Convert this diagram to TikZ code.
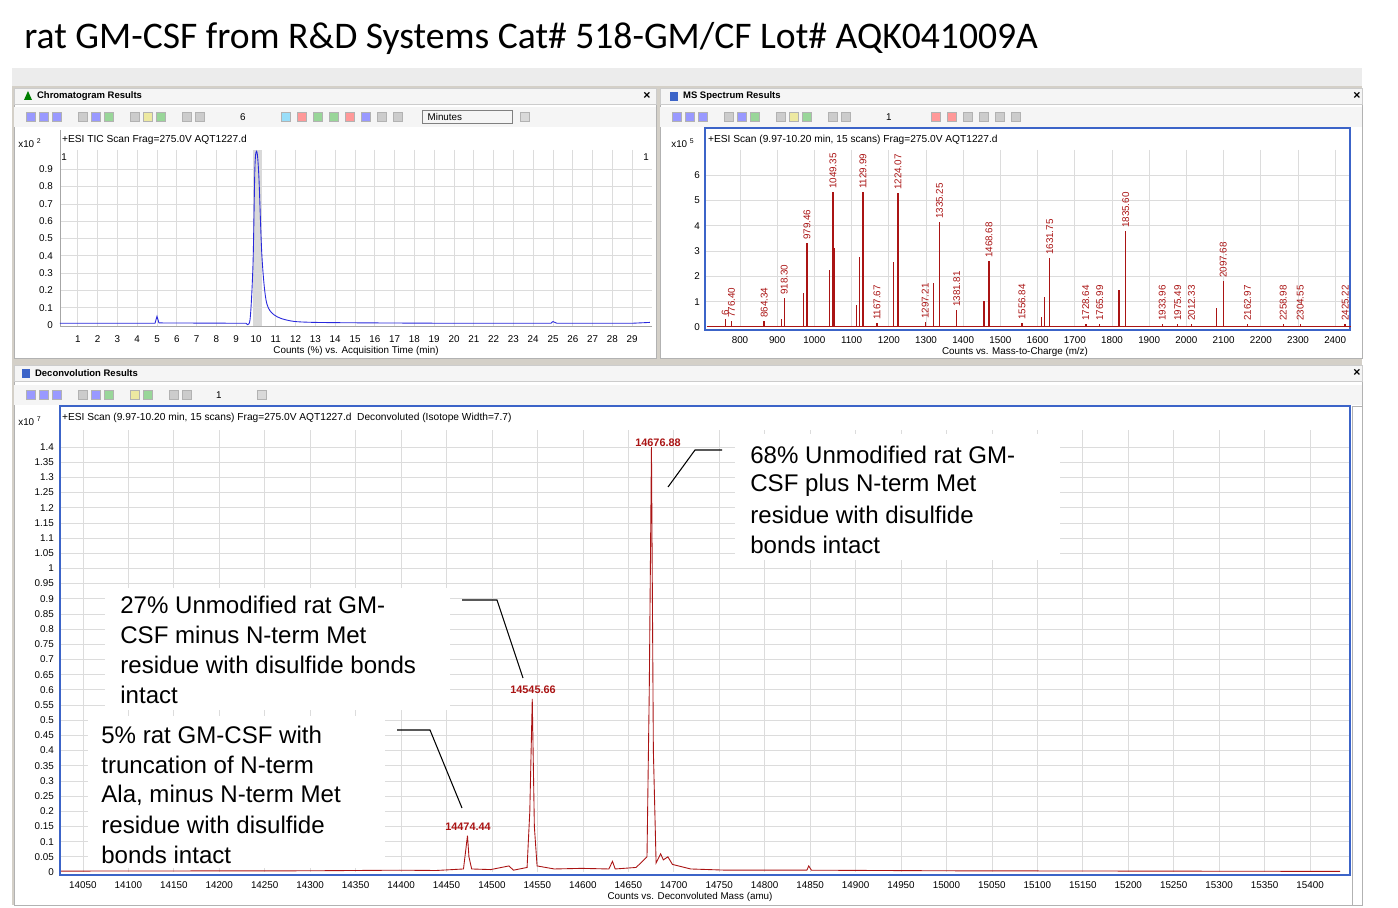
\documentclass[tikz,border=0pt]{standalone}
\usepackage{fontspec}
\setmainfont{Liberation Sans}
\newfontfamily\titlefont{Carlito}
\usepackage{tikz}
\usetikzlibrary{positioning,calc}
\definecolor{wingray}{RGB}{212,208,200}
\definecolor{barblue}{RGB}{60,100,200}
\definecolor{peakred}{RGB}{170,20,20}
\definecolor{ticblue}{RGB}{40,40,220}
\definecolor{gridgray}{RGB}{220,220,220}

\tikzset{
  ticklbl/.style={font=\fontsize{5.6}{6}\selectfont,inner sep=1pt},
  hdrlbl/.style={font=\fontsize{5.4}{6}\selectfont\bfseries,anchor=west,inner sep=1pt},
  scanlbl/.style={font=\fontsize{5.8}{6}\selectfont,anchor=west,inner sep=1pt},
  peaklbl/.style={font=\fontsize{5.6}{6}\selectfont,text=peakred,inner sep=1pt},
  annot/.style={fill=white,inner sep=0pt},
  annotxt/.style={font=\fontsize{13.7}{17}\selectfont,anchor=west,inner sep=0pt},
  leader/.style={draw=black,line width=0.6pt},
  panel/.style={fill=white,draw=gray!60},
  hdrbar/.style={fill=gray!8,draw=gray!40},
  icon/.style={minimum size=5pt,inner sep=0pt,draw=gray!60}
}

\begin{document}
\begin{tikzpicture}[x=0.02cm,y=-0.02cm]
\useasboundingbox (0,0) rectangle (1398,908);
\fill[white] (0,0) rectangle (1398,908);

% Title
\node[anchor=west,font=\titlefont\fontsize{21.4}{24}\selectfont,inner sep=0pt] (title) at (24,38)
  {rat GM-CSF from R\&D Systems Cat\# 518-GM/CF Lot\# AQK041009A};

% Window frame
\fill[wingray] (12,68) rectangle (1362,905);
\fill[gray!15] (12,68) rectangle (1362,86);

% ---------- Chromatogram panel ----------
\draw[panel] (14,88) rectangle (656,358);
\draw[hdrbar] (14,88) rectangle (656,104);
\fill[green!50!black] (24,100) -- (28,91) -- (32,100) -- cycle;
\node[hdrlbl] (chromhdr) at (35,96) {Chromatogram Results};
\node[font=\bfseries\fontsize{7}{7}\selectfont] (chromx) at (647,96) {×};
\fill[gray!8] (14,107) rectangle (656,127);
\foreach \i/\c in {0/blue,1/blue,2/blue,4/gray,5/blue,6/green!60!black,8/gray,9/yellow!80!black,10/green!60!black,12/gray,13/gray}
  \node[icon,fill=\c!40] (ci\i) at (31+\i*13,117) {};
\node[ticklbl,anchor=west] (chromcnt) at (238,117) {6};
\foreach \i/\c in {0/cyan,1/red,2/green!60!black,3/green!60!black,4/red,5/blue,6/gray,7/gray}
  \node[icon,fill=\c!40] (cj\i) at (286+\i*16,117) {};
\node[ticklbl,anchor=west,draw=gray,minimum width=51pt,minimum height=7.4pt,text width=45pt] (minutes) at (422,117) {Minutes};
\node[icon,fill=gray!30] (chromprint) at (525,117) {};

\fill[white] (60,130) rectangle (652,328);
\node[ticklbl] (chromexp) at (30,143) {x10 \textsuperscript{2}};
\node[scanlbl] (chromscan) at (60,140) {+ESI TIC Scan Frag=275.0V AQT1227.d};
\node[ticklbl] at (64,157) {1};
\node[ticklbl] at (646,157) {1};
\foreach \t in {1,...,29} {
  \draw[gridgray] (58+\t*19.8,150) -- (58+\t*19.8,326);
  \node[ticklbl] at (58+\t*19.8,339) {\t};
}
\foreach \k/\v in {0/0,1/0.1,2/0.2,3/0.3,4/0.4,5/0.5,6/0.6,7/0.7,8/0.8,9/0.9} {
  \ifnum\k>0 \draw[gridgray] (60,325-\k*17.3) -- (652,325-\k*17.3);\fi
  \node[ticklbl,anchor=east] at (55,325-\k*17.3) {\v};
}
\fill[gray!30] (253,150) rectangle (262,326);
\draw[gray!70] (60,130) -- (60,326) -- (652,326);
\node[ticklbl] (chromaxis) at (356,351) {Counts (\%) vs. Acquisition Time (min)};
\begin{scope}[shift={(58,325)},x=0.396cm,y=3.46cm]
\draw[ticblue,line width=0.5pt] (0.1,0.01) -- (4.9,0.01) -- (5,0.05) -- (5.1,0.012) -- (9.5,0.01);
\draw[ticblue,line width=0.5pt] plot[smooth] coordinates {(9.5,0.01) (9.7,0.03)
  (9.85,0.35) (9.95,0.92) (10.05,1.0) (10.15,0.85) (10.3,0.4) (10.5,0.15) (10.8,0.07) (11.5,0.03) (13,0.015) (20,0.01)};
\draw[ticblue,line width=0.5pt] (20,0.01) -- (24.9,0.01) -- (25.0,0.02) -- (25.2,0.01) -- (29.0,0.01) -- (29.9,0.015);
\end{scope}

% ---------- MS spectrum panel ----------
\draw[panel] (660,88) rectangle (1362,358);
\draw[hdrbar] (660,88) rectangle (1362,104);
\fill[barblue] (670,92) rectangle (678,101);
\node[hdrlbl] (mshdr) at (681,96) {MS Spectrum Results};
\node[font=\bfseries\fontsize{7}{7}\selectfont] (msx) at (1357,96) {×};
\fill[gray!8] (660,107) rectangle (1362,127);
\foreach \i/\c in {0/blue,1/blue,2/blue,4/gray,5/blue,6/green!60!black,8/gray,9/yellow!80!black,10/green!60!black,12/gray,13/gray}
  \node[icon,fill=\c!40] (mi\i) at (677+\i*13,117) {};
\node[ticklbl,anchor=west] (mscnt) at (884,117) {1};
\foreach \i/\c in {0/red,1/red,2/gray,3/gray,4/gray,5/gray}
  \node[icon,fill=\c!40] (mj\i) at (936+\i*16,117) {};

\fill[white] (705,130) rectangle (1350,328);
\draw[barblue,line width=0.8pt] (705,128) rectangle (1350,330);
\node[ticklbl] (msexp) at (683,143) {x10 \textsuperscript{5}};
\node[scanlbl] (msscan) at (706,140) {+ESI Scan (9.97-10.20 min, 15 scans) Frag=275.0V AQT1227.d};
\foreach \m in {800,900,...,2400} {
  \draw[gridgray] (740+\m*0.372-297.6,150) -- (740+\m*0.372-297.6,327);
  \node[ticklbl] at (740+\m*0.372-297.6,340) {\m};
}
\foreach \k in {1,...,6} {
  \draw[gridgray] (706,327-\k*25.3) -- (1349,327-\k*25.3);
  \node[ticklbl,anchor=east] at (702,327-\k*25.3) {\k};
}
\node[ticklbl,anchor=east] at (702,327) {0};
\node[ticklbl] (msaxis) at (1015,352) {Counts vs. Mass-to-Charge (m/z)};
\begin{scope}[shift={(442.4,327)},x=0.00744cm,y=0.02cm]
\draw[peakred,line width=0.4pt] (710,1) -- (2440,1);
\foreach \m/\h in {970/34,1040/57,1052/79,1112/22,1120/70,1212/65,1320/44,1455/26,1618/30,1818/37,2080/19,910/8,1610/10}
  {\draw[draw=peakred,line width=0.7pt] (\m,0) -- (\m,\h);}
\foreach \m/\h/\l in {760/8/6,776.40/6/776.40,864.34/6/864.34,918.30/29/918.30,979.46/84/979.46,1049.35/135/1049.35,
  1129.99/135/1129.99,1224.07/134/1224.07,1167.67/4/1167.67,1297.21/5/1297.21,1335.25/105/1335.25,1381.81/17/1381.81,
  1468.68/66/1468.68,1556.84/4/1556.84,1631.75/69/1631.75,1728.64/3/1728.64,1765.99/3/1765.99,1835.60/96/1835.60,
  1933.96/3/1933.96,1975.49/3/1975.49,2012.33/3/2012.33,2097.68/46/2097.68,2162.97/3/2162.97,2258.98/3/2258.98,
  2304.55/3/2304.55,2425.22/3/2425.22} {
  \draw[peakred,line width=0.8pt] (\m,0) -- (\m,\h);
  \node[peaklbl,rotate=90,anchor=west] at (\m,\h+1) {\l};
}
\end{scope}

% ---------- Deconvolution panel ----------
\draw[panel] (14,365) rectangle (1362,905);
\draw[hdrbar] (14,365) rectangle (1362,381);
\fill[barblue] (22,369) rectangle (30,378);
\node[hdrlbl] (dchdr) at (33,373) {Deconvolution Results};
\node[font=\bfseries\fontsize{7}{7}\selectfont] (dcx) at (1357,373) {×};
\fill[gray!8] (14,385) rectangle (1362,405);
\foreach \i/\c in {0/blue,1/blue,2/blue,4/gray,5/blue,6/green!60!black,8/yellow!80!black,9/green!60!black,11/gray,12/gray}
  \node[icon,fill=\c!40] (di\i) at (31+\i*13,395) {};
\node[ticklbl,anchor=west] (dccnt) at (214,395) {1};
\node[icon,fill=gray!30] (dcprint) at (262,395) {};

\fill[white] (60,408) rectangle (1350,873);
\draw[barblue,line width=0.8pt] (60,406) rectangle (1350,875);
\node[ticklbl] (dcexp) at (30,421) {x10 \textsuperscript{7}};
\node[scanlbl] (dcscan) at (60,418) {+ESI Scan (9.97-10.20 min, 15 scans) Frag=275.0V AQT1227.d\ \ Deconvoluted (Isotope Width=7.7)};
\foreach \m in {14050,14100,...,15400} {
  \draw[gridgray] (82+\m*0.909-12770.5,430) -- (82+\m*0.909-12770.5,872);
  \node[ticklbl] at (82+\m*0.909-12770.5,885) {\m};
}
\foreach \v [count=\k from 0] in {0,0.05,0.1,0.15,0.2,0.25,0.3,0.35,0.4,0.45,0.5,0.55,0.6,0.65,0.7,0.75,0.8,0.85,0.9,0.95,1,1.05,1.1,1.15,1.2,1.25,1.3,1.35,1.4} {
  \ifnum\k>0 \draw[gridgray] (61,872-\k*15.18) -- (1349,872-\k*15.18);\fi
  \node[ticklbl,anchor=east] at (56,872-\k*15.18) {\v};
}
\node[ticklbl] (dcaxis) at (690,897) {Counts vs. Deconvoluted Mass (amu)};
\begin{scope}[shift={(36.5,872)},x=0.01818cm,y=6.072cm]
\draw[peakred,line width=0.5pt] plot coordinates {(27,0.003) (300,0.004) (400,0.006) (440,0.005) (470,0.01) (472,0.06) (474.4,0.12)
  (476,0.05) (479,0.01) (500,0.008) (520,0.02) (525,0.006) (540,0.015) (543,0.2) (545.7,0.57) (548,0.15) (551,0.02) (570,0.01)
  (600,0.012) (630,0.01) (634,0.035) (637,0.01) (660,0.015) (672,0.05) (674.5,0.6) (676.9,1.4) (679,0.4) (682,0.03) (687,0.06)
  (690,0.04) (695,0.05) (700,0.025) (720,0.01) (760,0.006) (848,0.006) (850,0.02) (853,0.006) (1000,0.004) (1435,0.002)};
\end{scope}
\node[peaklbl,font=\fontsize{6.2}{7}\selectfont\bfseries] (pkc) at (658,443) {14676.88};
\node[peaklbl,font=\fontsize{6.2}{7}\selectfont\bfseries] (pkb) at (533,690) {14545.66};
\node[peaklbl,font=\fontsize{6.2}{7}\selectfont\bfseries] (pka) at (468,827) {14474.44};
\draw[gray!60] (1352,406) rectangle (1362,905);

% ---------- Annotations ----------
\fill[annot] (735,434) rectangle (1060,560);
\node[annotxt] (notec) at (750,455) {68\% Unmodified rat GM-};
\node[annotxt] (notec2) at (750,485) {CSF plus N-term Met};
\node[annotxt] (notec3) at (750,515) {residue with disulfide};
\node[annotxt] (notec4) at (750,545) {bonds intact};
\coordinate (lc1) at (722,450); \coordinate (lc2) at (695,450); \coordinate (lc3) at (668,487);
\draw[leader] (lc1) -- (lc2) -- (lc3);

\fill[annot] (105,588) rectangle (450,710);
\node[annotxt] (noteb) at (120,605) {27\% Unmodified rat GM-};
\node[annotxt] (noteb2) at (120,635) {CSF minus N-term Met};
\node[annotxt] (noteb3) at (120,665) {residue with disulfide bonds};
\node[annotxt] (noteb4) at (120,695) {intact};
\coordinate (lb1) at (462,600); \coordinate (lb2) at (497,600); \coordinate (lb3) at (523,678);
\draw[leader] (lb1) -- (lb2) -- (lb3);

\fill[annot] (88,716) rectangle (385,868);
\node[annotxt] (notea) at (101,735) {5\% rat GM-CSF with};
\node[annotxt] (notea2) at (101,765) {truncation of N-term};
\node[annotxt] (notea3) at (101,795) {Ala, minus N-term Met};
\node[annotxt] (notea4) at (101,825) {residue with disulfide};
\node[annotxt] (notea5) at (101,855) {bonds intact};
\coordinate (la1) at (397,730); \coordinate (la2) at (430,730); \coordinate (la3) at (462,808);
\draw[leader] (la1) -- (la2) -- (la3);
\end{tikzpicture}
\end{document}
